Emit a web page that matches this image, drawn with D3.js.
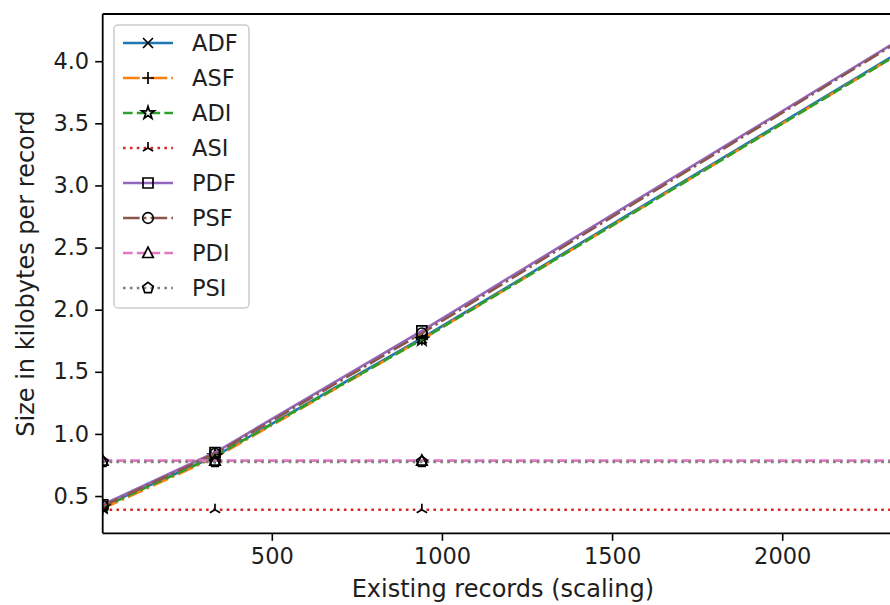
<!DOCTYPE html>
<html><head><meta charset="utf-8">
<script src="https://cdn.jsdelivr.net/npm/d3@7"></script>
<style>body{margin:0;background:#fff} text{font-family:"DejaVu Sans",sans-serif;fill:#1e1e1e}</style>
</head><body><svg id="c" width="890" height="605"></svg>
<script>
// ---- data ----
const xValues = [3, 333, 941, 2355];
const seriesNames = ["ADF", "ASF", "ADI", "ASI", "PDF", "PSF", "PDI", "PSI"];
const ADF = [0.42, 0.82, 1.77, 4.09];
const ASF = [0.40, 0.81, 1.76, 4.08];
const ADI = [0.41, 0.82, 1.76, 4.08];
const ASI = [0.39, 0.39, 0.39, 0.39];
const PDF = [0.43, 0.85, 1.83, 4.19];
const PSF = [0.42, 0.84, 1.81, 4.18];
const PDI = [0.785, 0.785, 0.785, 0.785];
const PSI = [0.775, 0.775, 0.775, 0.775];
const seriesValues = [ADF, ASF, ADI, ASI, PDF, PSF, PDI, PSI];
const xTicks = [500, 1000, 1500, 2000];
const yTicks = [0.5, 1.0, 1.5, 2.0, 2.5, 3.0, 3.5, 4.0];
const xLabel = "Existing records (scaling)";
const yLabel = "Size in kilobytes per record";

// ---- styles ----
const colors = ["#1f77b4", "#ff7f0e", "#2ca02c", "#d62728", "#9467bd", "#8c564b", "#e377c2", "#7f7f7f"];
const LW = 2.6;
const DASHED = [3.7 * LW, 1.6 * LW].join(",");
const DOTTED = [1 * LW, 1.65 * LW].join(",");
const DASHDOT = [6.4 * LW, 1.6 * LW, 1 * LW, 1.6 * LW].join(",");
const dashes = [null, DASHDOT, DASHED, DOTTED, null, DASHDOT, DASHED, DOTTED];
const markers = ["x", "plus", "star", "tri", "square", "circle", "triangle", "pentagon"];
const TICK_FS = 22.5, LABEL_FS = 24, LEGEND_FS = 22.5;

const svg = d3.select("#c");
const L = 102.7, R = 903, T = 14, B = 533.3;

const allV = seriesValues.flat();
const vmin = d3.min(allV), vmax = d3.max(allV), pad = (vmax - vmin) * 0.05;
const x = d3.scaleLinear().domain([xValues[0], xValues[xValues.length - 1]]).range([L, R]);
const y = d3.scaleLinear().domain([vmin - pad, vmax + pad]).range([B, T]);

svg.append("defs").append("clipPath").attr("id", "clip")
  .append("rect").attr("x", L).attr("y", T).attr("width", R - L).attr("height", B - T);

function markerPath(type) {
  const c30 = Math.cos(Math.PI / 6);
  switch (type) {
    case "x": { const s = 5; return `M${-s},${-s}L${s},${s}M${-s},${s}L${s},${-s}`; }
    case "plus": { const s = 6; return `M${-s},0H${s}M0,${-s}V${s}`; }
    case "star": return d3.symbol(d3.symbolStar, 50)();
    case "tri": { const s = 6; return `M0,0V${-s}M0,0L${s * c30},${s / 2}M0,0L${-s * c30},${s / 2}`; }
    case "square": return "M-5,-5H5V5H-5Z";
    case "circle": return d3.symbol(d3.symbolCircle, Math.PI * 5.3 * 5.3)();
    case "triangle": return "M0,-5.8L5.3,4.5L-5.3,4.5Z";
    case "pentagon": {
      const r = 5.6; let p = "";
      for (let i = 0; i < 5; i++) { const a = -Math.PI / 2 + i * 2 * Math.PI / 5; p += (i ? "L" : "M") + (r * Math.cos(a)).toFixed(2) + "," + (r * Math.sin(a)).toFixed(2); }
      return p + "Z";
    }
  }
}

// ---- series ----
const plot = svg.append("g").attr("clip-path", "url(#clip)");
const line = d3.line().x(d => x(d[0])).y(d => y(d[1]));
seriesValues.forEach((vals, i) => {
  const pts = xValues.map((xv, j) => [xv, vals[j]]);
  const g = plot.append("g");
  g.append("path").attr("d", line(pts)).attr("fill", "none")
    .attr("stroke", colors[i]).attr("stroke-width", LW)
    .attr("stroke-dasharray", dashes[i]);
  g.selectAll("path.m").data(pts).join("path").attr("class", "m")
    .attr("transform", d => `translate(${x(d[0])},${y(d[1])})`)
    .attr("d", markerPath(markers[i])).attr("fill", "none")
    .attr("stroke", "#000").attr("stroke-width", 1.7);
});

// ---- axes ----
const xAxis = svg.append("g").attr("transform", `translate(0,${B})`)
  .call(d3.axisBottom(x).tickValues(xTicks).tickFormat(d3.format("d")).tickSize(7.5).tickPadding(7));
const yAxis = svg.append("g").attr("transform", `translate(${L},0)`)
  .call(d3.axisLeft(y).tickValues(yTicks).tickFormat(d3.format(".1f")).tickSize(7.5).tickPadding(6));
[xAxis, yAxis].forEach(a => {
  a.select(".domain").remove();
  a.selectAll(".tick line").attr("stroke", "#000").attr("stroke-width", 1.6);
  a.selectAll(".tick text").attr("font-size", TICK_FS).attr("fill", "#1e1e1e").attr("font-family", "DejaVu Sans");
});

// spines
svg.append("line").attr("x1", L).attr("x2", L).attr("y1", T).attr("y2", B).attr("stroke", "#000").attr("stroke-width", 1.8);
svg.append("line").attr("x1", L).attr("x2", R).attr("y1", B).attr("y2", B).attr("stroke", "#000").attr("stroke-width", 1.8);
svg.append("line").attr("x1", L).attr("x2", R).attr("y1", T).attr("y2", T).attr("stroke", "#000").attr("stroke-width", 1.8);
svg.append("line").attr("x1", R).attr("x2", R).attr("y1", T).attr("y2", B).attr("stroke", "#000").attr("stroke-width", 1.8);

// labels
svg.append("text").attr("x", (L + R) / 2).attr("y", 597).attr("text-anchor", "middle")
  .attr("font-size", LABEL_FS).text(xLabel);
svg.append("text").attr("transform", `translate(34,${(T + B) / 2}) rotate(-90)`)
  .attr("text-anchor", "middle").attr("font-size", LABEL_FS).text(yLabel);

// ---- legend ----
const lg = svg.append("g");
lg.append("rect").attr("x", 114).attr("y", 25).attr("width", 135).attr("height", 283)
  .attr("rx", 4).attr("fill", "#fff").attr("fill-opacity", 0.8)
  .attr("stroke", "#cccccc").attr("stroke-width", 1.5);
seriesNames.forEach((name, i) => {
  const cy = 43 + i * 35;
  lg.append("line").attr("x1", 123).attr("x2", 173).attr("y1", cy).attr("y2", cy)
    .attr("stroke", colors[i]).attr("stroke-width", LW).attr("stroke-dasharray", dashes[i]);
  lg.append("path").attr("transform", `translate(148,${cy})`).attr("d", markerPath(markers[i]))
    .attr("fill", "none").attr("stroke", "#000").attr("stroke-width", 1.7);
  lg.append("text").attr("x", 192).attr("y", cy + 8).attr("font-size", LEGEND_FS).text(name);
});
</script></body></html>
